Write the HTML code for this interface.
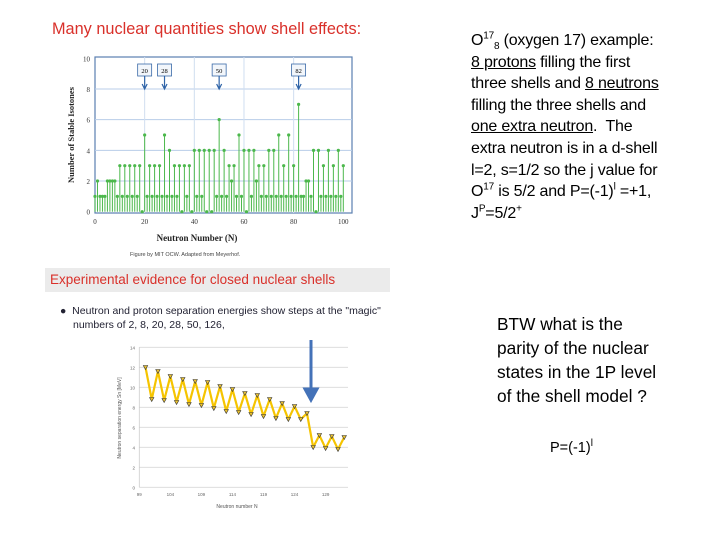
<!DOCTYPE html>
<html><head><meta charset="utf-8">
<style>
body{margin:0;width:720px;height:540px;background:#fff;position:relative;overflow:hidden;font-family:"Liberation Sans",sans-serif}
.abs{position:absolute;white-space:nowrap}
.t1{left:471px;top:30px;font-size:16px;line-height:21.6px;color:#000;letter-spacing:-0.2px}
.t2{left:497px;top:312px;font-size:17.3px;line-height:24px;color:#000}
u{text-decoration:underline}
sup,sub{font-size:10px;line-height:0}
</style></head><body>
<div class="abs" style="left:52px;top:20px;font-size:16.3px;color:#d9302a">Many nuclear quantities show shell effects:</div>

<svg class="abs" style="left:0;top:0" width="720" height="540">
<g id="topChart"></g>
<g id="botChart"></g>
</svg>

<div class="abs" style="left:45px;top:268px;width:345px;height:24px;background:#ebebeb;"><span style="position:absolute;left:5px;top:4px;font-size:13.5px;color:#d9302a">Experimental evidence for closed nuclear shells</span></div>
<div class="abs" style="left:60px;top:304px;font-size:10.5px;line-height:14px;color:#223">&#9679;&nbsp; Neutron and proton separation energies show steps at the "magic"<br><span style="padding-left:13px">numbers of 2, 8, 20, 28, 50, 126,</span></div>

<div class="abs t1">
O<sup>17</sup><sub>8</sub> (oxygen 17) example:<br>
<u>8 protons</u> filling the first<br>
three shells and <u>8 neutrons</u><br>
filling the three shells and<br>
<u>one extra neutron</u>.&nbsp; The<br>
extra neutron is in a d-shell<br>
l=2, s=1/2 so the j value for<br>
O<sup>17</sup> is 5/2 and P=(-1)<sup>l</sup> =+1,<br>
J<sup>P</sup>=5/2<sup>+</sup>
</div>
<div class="abs t2">
BTW what is the<br>parity of the nuclear<br>states in the 1P level<br>of the shell model ?
</div>
<div class="abs" style="left:550px;top:440px;font-size:14.5px">P=(-1)<sup>l</sup></div>

<script>
const isoN = [];
const isoCounts = [1,2,1,1,1,2,2,2,2,1,3,1,3,1,3,1,3,1,3,0,5,1,3,1,3,1,3,1,5,1,4,1,3,1,3,0,3,1,3,0,4,1,4,1,4,0,4,0,4,1,6,1,4,1,3,2,3,1,5,1,4,0,4,1,4,2,3,1,3,1,4,1,4,1,5,1,3,1,5,1,3,1,7,1,1,2,2,1,4,0,4,1,3,1,4,1,3,1,4,1,3];
for (let i=0;i<isoCounts.length;i++) isoN.push(i);
const isoXTicks = [0,20,40,60,80,100];
const isoYTicks = [0,2,4,6,8,10];
const magicNums = [20,28,50,82];

const snN = [];
const snValues = [12,8.8,11.6,8.7,11.1,8.5,10.8,8.3,10.6,8.2,10.5,7.9,10.1,7.6,9.8,7.5,9.4,7.3,9.2,7.1,8.8,6.9,8.4,6.8,8.1,6.8,7.4,4.0,5.2,3.9,5.1,3.8,5.0];
for (let i=0;i<snValues.length;i++) snN.push(100+i);
const snXTicks = [99,104,109,114,119,124,129];
const snYTicks = [0,2,4,6,8,10,12,14];

const NS="http://www.w3.org/2000/svg";
function mk(p,tag,a,txt){const e=document.createElementNS(NS,tag);for(const k in a)e.setAttribute(k,a[k]);if(txt!==undefined)e.textContent=txt;p.appendChild(e);return e;}

// top chart
const gTop=document.getElementById('topChart');
const tx=v=>95+v*2.483, ty=v=>211.7-v*15.34;
mk(gTop,'rect',{x:95,y:57,width:257,height:156,fill:'#fff',stroke:'#5b7fb0','stroke-width':1.2});
isoYTicks.forEach(v=>{
 if(v>0&&v<10){const g=mk(gTop,'line',{x1:95,x2:352,y1:ty(v),y2:ty(v),stroke:'#b8cde8','stroke-width':1});}
 const t=mk(gTop,'text',{x:90,y:ty(v)+3,'font-size':7,'text-anchor':'end','font-family':'Liberation Serif,serif',fill:'#333'},v);
 
});
isoXTicks.forEach(v=>{
 if(v>0&&v<100){const g=mk(gTop,'line',{x1:tx(v),x2:tx(v),y1:57,y2:213,stroke:'#d0def0','stroke-width':1});}
 const t=mk(gTop,'text',{x:tx(v),y:224,'font-size':7,'text-anchor':'middle','font-family':'Liberation Serif,serif',fill:'#333'},v);
 
});
isoN.forEach((n,i)=>{
 const v=isoCounts[i];
 const l=mk(gTop,'line',{x1:tx(n),x2:tx(n),y1:ty(0),y2:ty(v),stroke:'#4cb84c','stroke-width':1});
 
 const c=mk(gTop,'circle',{cx:tx(n),cy:ty(v),r:1.6,fill:'#4cb84c'});
 
});
magicNums.forEach(m=>{
 const x=tx(m);
 const b=mk(gTop,'rect',{x:x-7,y:64,width:14,height:12,fill:'#f2f6fb',stroke:'#3a6aa8','stroke-width':0.8});
 
 const t=mk(gTop,'text',{x:x,y:73,'font-size':6.5,'text-anchor':'middle','font-family':'Liberation Serif,serif'},m);
 
 const a=mk(gTop,'path',{d:`M${x} 76 L${x} ${ty(8)} M${x-2.5} ${ty(8)-5} L${x} ${ty(8)} L${x+2.5} ${ty(8)-5}`,stroke:'#2f64a8','stroke-width':1.2,fill:'none'});
 
});
const yt1=mk(gTop,'text',{x:0,y:0,transform:'translate(74,135) rotate(-90)','font-size':8.5,'font-weight':'bold','text-anchor':'middle','font-family':'Liberation Serif,serif',fill:'#222'},'Number of Stable Isotones');

const xt1=mk(gTop,'text',{x:197,y:241,'font-size':9,'font-weight':'bold','text-anchor':'middle','font-family':'Liberation Serif,serif',fill:'#222'},'Neutron Number (N)');

const cap=mk(gTop,'text',{x:130,y:256,'font-size':5.5,'font-family':'Liberation Sans,sans-serif',fill:'#444'},'Figure by MIT OCW.  Adapted from Meyerhof.');


// bottom chart
const gBot=document.getElementById('botChart');
const bx=v=>139.3+(v-99)*6.21, by=v=>487.3-v*10;
snYTicks.forEach(v=>{
 const g=mk(gBot,'line',{x1:139.3,x2:348,y1:by(v),y2:by(v),stroke:'#d8d8d8','stroke-width':0.8});
 
 const t=mk(gBot,'text',{x:135,y:by(v)+2,'font-size':4.5,'text-anchor':'end',fill:'#666'},v);
 
});
mk(gBot,'line',{x1:139.3,x2:139.3,y1:by(14),y2:by(0),stroke:'#ccc','stroke-width':0.8});
snXTicks.forEach(v=>{
 const t=mk(gBot,'text',{x:bx(v),y:496,'font-size':4.5,'text-anchor':'middle',fill:'#666'},v);
 
});
let d='';snN.forEach((n,i)=>{d+=(i?'L':'M')+bx(n)+' '+by(snValues[i]);});
const ln=mk(gBot,'path',{d:d,stroke:'#f5c400','stroke-width':2.2,fill:'none','stroke-linejoin':'round'});

snN.forEach((n,i)=>{
 const x=bx(n),y=by(snValues[i]);
 const p=mk(gBot,'path',{d:`M${x-2.2} ${y-1.8} L${x+2.2} ${y-1.8} L${x} ${y+2.2} Z`,fill:'#e8c030',stroke:'#333','stroke-width':0.6});
 
});
const yt2=mk(gBot,'text',{x:0,y:0,transform:'translate(121,418) rotate(-90)','font-size':5,'text-anchor':'middle',fill:'#555'},'Neutron separation energy Sn [MeV]');

const xt2=mk(gBot,'text',{x:237,y:508,'font-size':5,'text-anchor':'middle',fill:'#555'},'Neutron number N');

const ar=mk(gBot,'path',{d:'M311 340 L311 392 M305 389 L311 400 L317 389 Z',stroke:'#4472b8','stroke-width':3,fill:'#4472b8'});

</script>
</body></html>
